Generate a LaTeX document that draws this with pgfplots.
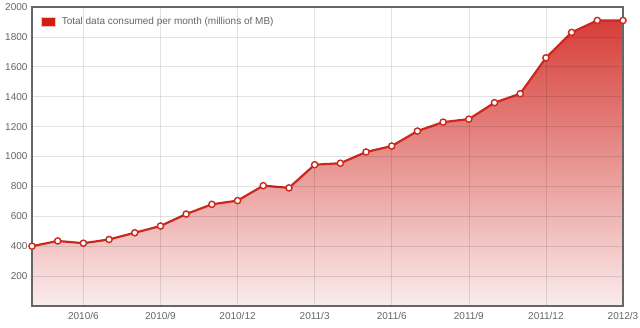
\documentclass[border=0pt]{standalone}
\usepackage{pgfplots}
\pgfplotsset{compat=1.18}
\usepackage{fontspec}
\setmainfont{Liberation Sans}
\definecolor{linered}{RGB}{204,40,30}
\definecolor{topred}{RGB}{214,62,56}
\definecolor{botpink}{RGB}{250,236,236}
\definecolor{legred}{RGB}{210,30,18}
\definecolor{labgray}{RGB}{100,100,100}
\begin{document}
\begin{tikzpicture}
\path[use as bounding box] (-32pt,-22pt) rectangle (608pt,306pt);
\begin{axis}[
  at={(0,0)}, anchor=south west,
  scale only axis, width=591pt, height=299pt,
  xmin=0, xmax=23, ymin=0, ymax=2000,
  xtick={2,5,8,11,14,17,20,23},
  xticklabels={2010/6,2010/9,2010/12,2011/3,2011/6,2011/9,2011/12,2012/3},
  ytick={200,400,...,2000},
  major tick length=0pt,
  tick label style={font=\fontsize{10}{12}\selectfont, text=labgray},
  /pgf/number format/assume math mode=true,
  /pgf/number format/1000 sep={},
  xticklabel style={yshift=-3pt},
  yticklabel style={xshift=-1pt},
  grid=major,
  grid style={black, opacity=0.11, line width=0.6pt},
  axis on top,
  axis line style={draw=black!60, line width=1.6pt},
  legend style={at={(0.014,0.975)}, anchor=north west, draw=none, fill=none,
    font=\fontsize{10}{12}\selectfont, text=labgray, inner sep=1pt},
  legend cell align=left,
]
\addplot[draw=none, top color=topred, bottom color=botpink, forget plot] coordinates {
(0,400) (1,435) (2,420) (3,445) (4,490) (5,535) (6,615) (7,680) (8,705) (9,805)
(10,790) (11,945) (12,955) (13,1030) (14,1070) (15,1170) (16,1230) (17,1250)
(18,1360) (19,1420) (20,1660) (21,1830) (22,1910) (23,1910)
} \closedcycle;
\addplot[color=linered, line width=2.2pt, mark=*, mark size=3.1pt,
  mark options={fill=white, draw=linered, line width=1.4pt}, forget plot] coordinates {
(0,400) (1,435) (2,420) (3,445) (4,490) (5,535) (6,615) (7,680) (8,705) (9,805)
(10,790) (11,945) (12,955) (13,1030) (14,1070) (15,1170) (16,1230) (17,1250)
(18,1360) (19,1420) (20,1660) (21,1830) (22,1910) (23,1910)
};
\addlegendimage{draw=none, legend image code/.code={\path[fill=legred, draw=red!25, line width=0.6pt] (0pt,-4.5pt) rectangle (14pt,5pt); \path[draw=none] (0pt,0pt) -- (18pt,0pt);}}
\addlegendentry{Total data consumed per month (millions of MB)}
\end{axis}
\end{tikzpicture}
\end{document}
